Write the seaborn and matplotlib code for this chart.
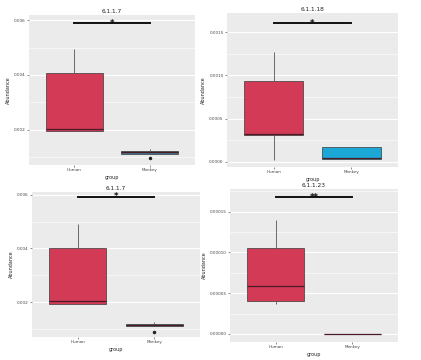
import matplotlib
matplotlib.use('Agg')
import matplotlib.pyplot as plt
import seaborn as sns
import pandas as pd
from matplotlib.ticker import MultipleLocator, FormatStrFormatter

# panel titles (EC numbers)
titles = ['6.1.1.7', '6.1.1.18', '6.1.1.7', '6.1.1.23']
groups = ['Human', 'Monkey']

# abundance samples (min, q1, median, q3, max / outlier)
human_1 = [0.00193, 0.00193, 0.00202, 0.00407, 0.00494]
monkey_1 = [0.00094, 0.00111, 0.00116, 0.00121, 0.00127]
human_2 = [0.00002, 0.00031, 0.00032, 0.00093, 0.00127]
monkey_2 = [0.000035, 0.000035, 0.00004, 0.000173, 0.000173]
human_3 = [0.00193, 0.00193, 0.00203, 0.00400, 0.00490]
monkey_3 = [0.00090, 0.00110, 0.00115, 0.00120, 0.00126]
human_4 = [0.0000365, 0.00004, 0.0000585, 0.000105, 0.00014]
monkey_4 = [0.0, 0.0, 0.0, 0.0, 0.0]

# significance bars
sig_y = [0.0059, 0.0016, 0.00593, 0.000168]
sig_txt = ['*', '*', '*', '**']

# y ticks per panel
yticks = [[0.002, 0.004, 0.006],
          [0.0, 0.0005, 0.0010, 0.0015],
          [0.002, 0.004, 0.006],
          [0.0, 0.00005, 0.00010, 0.00015]]
yfmt = ['%.3f', '%.4f', '%.3f', '%.5f']
ylims = [(0.0007, 0.0062), (-0.00006, 0.00172), (0.0007, 0.0061), (-0.00001, 0.000178)]

human_col = '#D23A56'
monkey_cols = ['#3D7890', '#1BA8D6', '#3D7890', '#555555']

data = [(human_1, monkey_1), (human_2, monkey_2), (human_3, monkey_3), (human_4, monkey_4)]

W, H = 421, 360
fig = plt.figure(figsize=(W / 100, H / 100), dpi=100)
fig.patch.set_facecolor('white')

# axes boxes in pixels: left, top, right, bottom
boxes = [(29, 15, 195, 165), (227, 13, 398, 167), (32, 192, 200, 337), (230, 189, 398, 342)]

for i, (l, t, r, b) in enumerate(boxes):
    ax = fig.add_axes([l / W, 1 - b / H, (r - l) / W, (b - t) / H])
    hum, mon = data[i]
    df = pd.DataFrame({'group': ['Human'] * len(hum) + ['Monkey'] * len(mon),
                       'Abundance': hum + mon})
    ax.set_facecolor('#EBEBEB')
    ax.set_axisbelow(True)
    ax.yaxis.set_minor_locator(MultipleLocator((yticks[i][1] - yticks[i][0]) / 2))
    ax.grid(True, which='major', color='white', linewidth=0.8)
    ax.grid(True, which='minor', axis='y', color='white', linewidth=0.4)

    sns.boxplot(data=df, x='group', y='Abundance', hue='group', order=groups,
                hue_order=groups, palette=[human_col, monkey_cols[i]],
                saturation=1, width=0.75, linewidth=0.5, linecolor='#3a3a3a',
                showcaps=False,
                whiskerprops=dict(color='#555555', linewidth=0.6),
                medianprops=dict(color='#4a1a25', linewidth=0.9),
                flierprops=dict(marker='o', markersize=1.5, markerfacecolor='#222222',
                                markeredgecolor='#222222'),
                legend=False, ax=ax)

    # significance bar
    ax.plot([0, 1], [sig_y[i], sig_y[i]], color='#111111', linewidth=1.4)
    ax.text(0.5, sig_y[i], sig_txt[i], ha='center', va='center', fontsize=6,
            fontweight='bold', color='#111111')

    ax.set_xlim(-0.6, 1.6)
    ax.set_ylim(*ylims[i])
    ax.set_yticks(yticks[i])
    ax.yaxis.set_major_formatter(FormatStrFormatter(yfmt[i]))
    ax.set_title(titles[i], fontsize=4.2, pad=1.5, color='#222222')
    ax.set_xlabel('group', fontsize=3.5, labelpad=1.5, color='#222222')
    ax.set_ylabel('Abundance', fontsize=3.5, labelpad=2, color='#222222')
    ax.tick_params(axis='both', which='major', labelsize=3, length=1.5, width=0.4,
                   pad=1, color='#333333', labelcolor='#444444')
    ax.tick_params(axis='y', which='minor', length=0)
    for s in ax.spines.values():
        s.set_visible(False)

fig.savefig('out.png', dpi=100)
